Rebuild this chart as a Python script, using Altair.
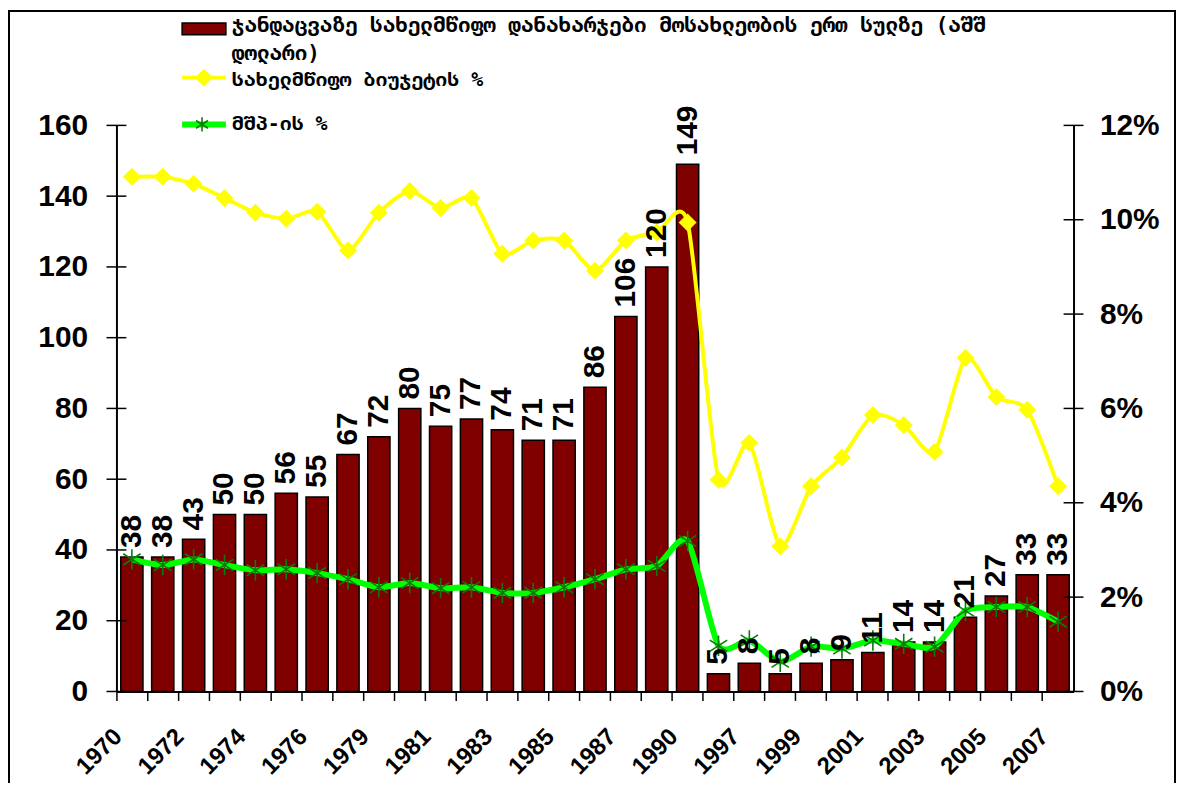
import altair as alt
import pandas as pd

years = ["1970", "1971", "1972", "1973", "1974", "1975", "1976", "1978", "1979", "1980",
         "1981", "1982", "1983", "1984", "1985", "1986", "1987", "1989", "1990", "1996",
         "1997", "1998", "1999", "2000", "2001", "2002", "2003", "2004", "2005", "2006", "2007"]
labeled_years = years[0::2]

spending = [38, 38, 43, 50, 50, 56, 55, 67, 72, 80, 75, 77, 74, 71, 71, 86, 106, 120, 149,
            5, 8, 5, 8, 9, 11, 14, 14, 21, 27, 33, 33]
budget_pct = [10.91, 10.91, 10.76, 10.46, 10.15, 10.02, 10.17, 9.35, 10.15, 10.61, 10.25, 10.46,
              9.28, 9.56, 9.56, 8.92, 9.56, 9.73, 9.94, 4.49, 5.27, 3.08, 4.35, 4.96, 5.86,
              5.65, 5.08, 7.07, 6.24, 5.97, 4.35]
gdp_pct = [2.80, 2.68, 2.80, 2.68, 2.57, 2.59, 2.51, 2.38, 2.21, 2.30, 2.19, 2.21, 2.09, 2.09,
           2.21, 2.38, 2.59, 2.66, 3.19, 0.97, 1.08, 0.63, 0.95, 0.91, 1.08, 1.01, 0.95, 1.71,
           1.79, 1.79, 1.48]

left_ticks = [0, 20, 40, 60, 80, 100, 120, 140, 160]
right_ticks = [0, 0.02, 0.04, 0.06, 0.08, 0.10, 0.12]

legend_bar = ["ჯანდაცვაზე სახელმწიფო დანახარჯები მოსახლეობის ერთ სულზე (აშშ", "დოლარი)"]
legend_budget = "სახელმწიფო ბიუჯეტის %"
legend_gdp = "მშპ-ის %"

df = pd.DataFrame({
    "year": years,
    "spending": spending,
    "budget": [v / 100 for v in budget_pct],
    "gdp": [v / 100 for v in gdp_pct],
})

NUM_FONT = "Liberation Sans"
GEO_FONT = "DejaVu Sans Mono"

label_list = "[" + ",".join("'" + y + "'" for y in labeled_years) + "]"

x_enc = alt.X(
    "year:N", sort=years,
    scale=alt.Scale(paddingInner=0, paddingOuter=0),
    axis=alt.Axis(
        title=None, labelAngle=-45, labelAlign="right", labelBaseline="top",
        labelExpr="indexof(" + label_list + ", datum.label) >= 0 ? datum.label : ''",
        labelOverlap=False, bandPosition=0, tickSize=9, tickColor="black", tickWidth=1.5,
        domainColor="black", domainWidth=2, labelFont=NUM_FONT, labelFontWeight="bold",
        labelFontSize=24, labelColor="black", labelPadding=24, labelOffset=-22, grid=False,
    ),
)


def lscale():
    return alt.Scale(domain=[0, 160], nice=False, zero=True)


def rscale():
    return alt.Scale(domain=[0, 0.12], nice=False, zero=True)


left_axis = alt.Axis(
    title=None, orient="left", values=left_ticks, ticks=False, domainColor="black",
    domainWidth=2, labelFont=NUM_FONT, labelFontWeight="bold", labelFontSize=30,
    labelColor="black", labelPadding=29, grid=False,
)
right_axis = alt.Axis(
    title=None, orient="right", values=right_ticks, format=".0%", ticks=False,
    domainColor="black", domainWidth=2, labelFont=NUM_FONT, labelFontWeight="bold",
    labelFontSize=30, labelColor="black", labelPadding=26, grid=False,
)

bars = alt.Chart(df).mark_bar(
    color="#800000", stroke="black", strokeWidth=1.5, width=alt.RelativeBandSize(0.72)
).encode(x=x_enc, y=alt.Y("spending:Q", scale=lscale(), axis=left_axis))

lt_df = pd.DataFrame({"v": left_ticks})
left_tick_marks = alt.Chart(lt_df).mark_rule(color="black", strokeWidth=1.5).encode(
    y=alt.Y("v:Q", scale=lscale(), axis=None), x=alt.value(-10), x2=alt.value(10)
)

yellow_line = alt.Chart(df).mark_line(color="#FFFF00", strokeWidth=4, interpolate="cardinal",
                                      tension=0.3).encode(
    x=x_enc, y=alt.Y("budget:Q", scale=rscale(), axis=right_axis)
)
yellow_pts = alt.Chart(df).mark_point(shape="diamond", filled=True, size=324, color="#FFFF00",
                                      opacity=1).encode(
    x=x_enc, y=alt.Y("budget:Q", scale=rscale(), axis=None)
)
green_line = alt.Chart(df).mark_line(color="#00FF00", strokeWidth=6, interpolate="cardinal",
                                     tension=0.3).encode(
    x=x_enc, y=alt.Y("gdp:Q", scale=rscale(), axis=None)
)
ASTER = "M0,-1L0,1M-0.85,-0.55L0.85,0.55M-0.85,0.55L0.85,-0.55"
green_pts = alt.Chart(df).mark_point(shape=ASTER, filled=False, size=420, stroke="#0B7A0B",
                                     strokeWidth=1.6, opacity=1).encode(
    x=x_enc, y=alt.Y("gdp:Q", scale=rscale(), axis=None)
)
rt_df = pd.DataFrame({"v": right_ticks})
right_tick_marks = alt.Chart(rt_df).mark_rule(color="black", strokeWidth=1.5).encode(
    y=alt.Y("v:Q", scale=rscale(), axis=None), x=alt.value(952), x2=alt.value(972)
)

bar_labels = alt.Chart(df).mark_text(
    angle=270, align="left", baseline="middle", dx=9, font=NUM_FONT, fontWeight="bold",
    fontSize=30, color="black"
).encode(x=x_enc, y=alt.Y("spending:Q", scale=lscale(), axis=None), text="spending:Q")

one = pd.DataFrame({"k": [0]})
frame = alt.Chart(one).mark_rect(fill=None, stroke="black", strokeWidth=2).encode(
    x=alt.value(-108), x2=alt.value(1064), y=alt.value(-115), y2=alt.value(700)
)
sw_bar = alt.Chart(one).mark_rect(color="#800000", stroke="black", strokeWidth=1.5).encode(
    x=alt.value(66), x2=alt.value(110), y=alt.value(-103), y2=alt.value(-91)
)
sw_yl = alt.Chart(one).mark_rule(color="#FFFF00", strokeWidth=4).encode(
    x=alt.value(66), x2=alt.value(110), y=alt.value(-48)
)
sw_yp = alt.Chart(one).mark_point(shape="diamond", filled=True, size=324, color="#FFFF00",
                                  opacity=1).encode(x=alt.value(88), y=alt.value(-48))
sw_gl = alt.Chart(one).mark_rule(color="#00FF00", strokeWidth=6).encode(
    x=alt.value(66), x2=alt.value(110), y=alt.value(-1)
)
sw_gp = alt.Chart(one).mark_point(shape=ASTER, filled=False, size=200, stroke="#0B7A0B",
                                  strokeWidth=1.6, opacity=1).encode(x=alt.value(86), y=alt.value(-1))
txt_props = dict(align="left", baseline="alphabetic", font=GEO_FONT, fontWeight="bold",
                 fontSize=20, color="black")
t1 = alt.Chart(one).mark_text(text=legend_bar, lineHeight=28, fontSize=21,
                              **{k: v for k, v in txt_props.items() if k != "fontSize"}).encode(
    x=alt.value(116), y=alt.value(-94)
)
t2 = alt.Chart(one).mark_text(text=legend_budget, **txt_props).encode(
    x=alt.value(116), y=alt.value(-40)
)
t3 = alt.Chart(one).mark_text(text=legend_gdp, **txt_props).encode(
    x=alt.value(116), y=alt.value(5)
)

chart = alt.layer(
    bars, left_tick_marks, yellow_line, yellow_pts, green_line, green_pts, right_tick_marks,
    bar_labels, frame, sw_bar, sw_yl, sw_yp, sw_gl, sw_gp, t1, t2, t3
).resolve_scale(y="independent").properties(
    width=962, height=569,
    padding={"left": 109, "top": 116, "right": 104, "bottom": 90},
    autosize=alt.AutoSizeParams(type="none"),
    background="white",
).configure_view(stroke=None)

chart.save("out.html", embed_options={"renderer": "svg", "actions": False})
